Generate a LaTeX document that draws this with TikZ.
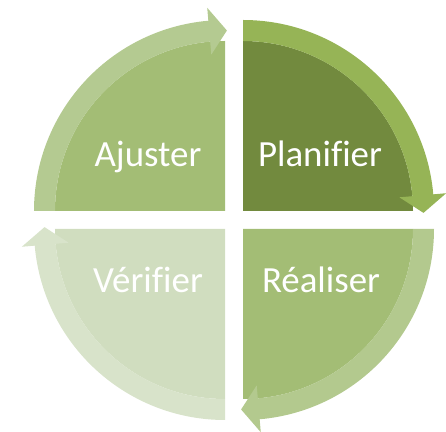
\documentclass[tikz,border=0pt]{standalone}
\usepackage{fontspec}
\setmainfont{Carlito}[Ligatures=NoCommon]
\usepackage{tikz}
\usetikzlibrary{positioning}
\definecolor{planfill}{HTML}{728A3E}
\definecolor{planband}{HTML}{96B456}
\definecolor{ajufill}{HTML}{A3BD75}
\definecolor{ajuband}{HTML}{B4CA91}
\definecolor{verfill}{HTML}{D0DDBF}
\definecolor{verband}{HTML}{D8E3CA}
\definecolor{realfill}{HTML}{A3BD75}
\definecolor{realband}{HTML}{B3C98E}

\tikzset{
  steplabel/.style={text=white, anchor=base, inner sep=0pt,
    font=\fontsize{21}{25}\selectfont},
}

\begin{document}
\begin{tikzpicture}[x=0.02cm, y=0.02cm]
  \useasboundingbox (-234,-212) rectangle (212,220);

  % Quadrants: start angle / corner / colours / label
  \foreach \s/\cx/\cy/\fillc/\bandc/\nm/\tx/\ty/\txt in {
      90/9/9/planfill/planband/plan/86/53/Planifier,
      0/9/-9/realfill/realband/real/87/-73/Réaliser,
      270/-9/-9/verfill/verband/ver/-86/-73/Vérifier,
      180/-9/9/ajufill/ajuband/aju/-86/53/Ajuster}{
    \pgfmathsetmacro{\e}{\s-90}
    \pgfmathsetmacro{\hb}{\e+5}
    \pgfmathsetmacro{\tp}{\e-0.6}
    \begin{scope}[shift={(\cx,\cy)}]
      % Sector
      \fill[\fillc] (0,0) -- (\s:170)
        arc[start angle=\s, end angle=\e, radius=170] -- cycle;
      % Curved arrow
      \fill[\bandc] (\s:191) arc[start angle=\s, end angle=\hb, radius=191]
        -- (\hb:204) -- (\tp:180.5) -- (\hb:157) -- (\hb:170)
        arc[start angle=\hb, end angle=\s, radius=170] -- cycle;
    \end{scope}
    \node[steplabel] (\nm) at (\tx,\ty) {\txt};
  }
\end{tikzpicture}
\end{document}
